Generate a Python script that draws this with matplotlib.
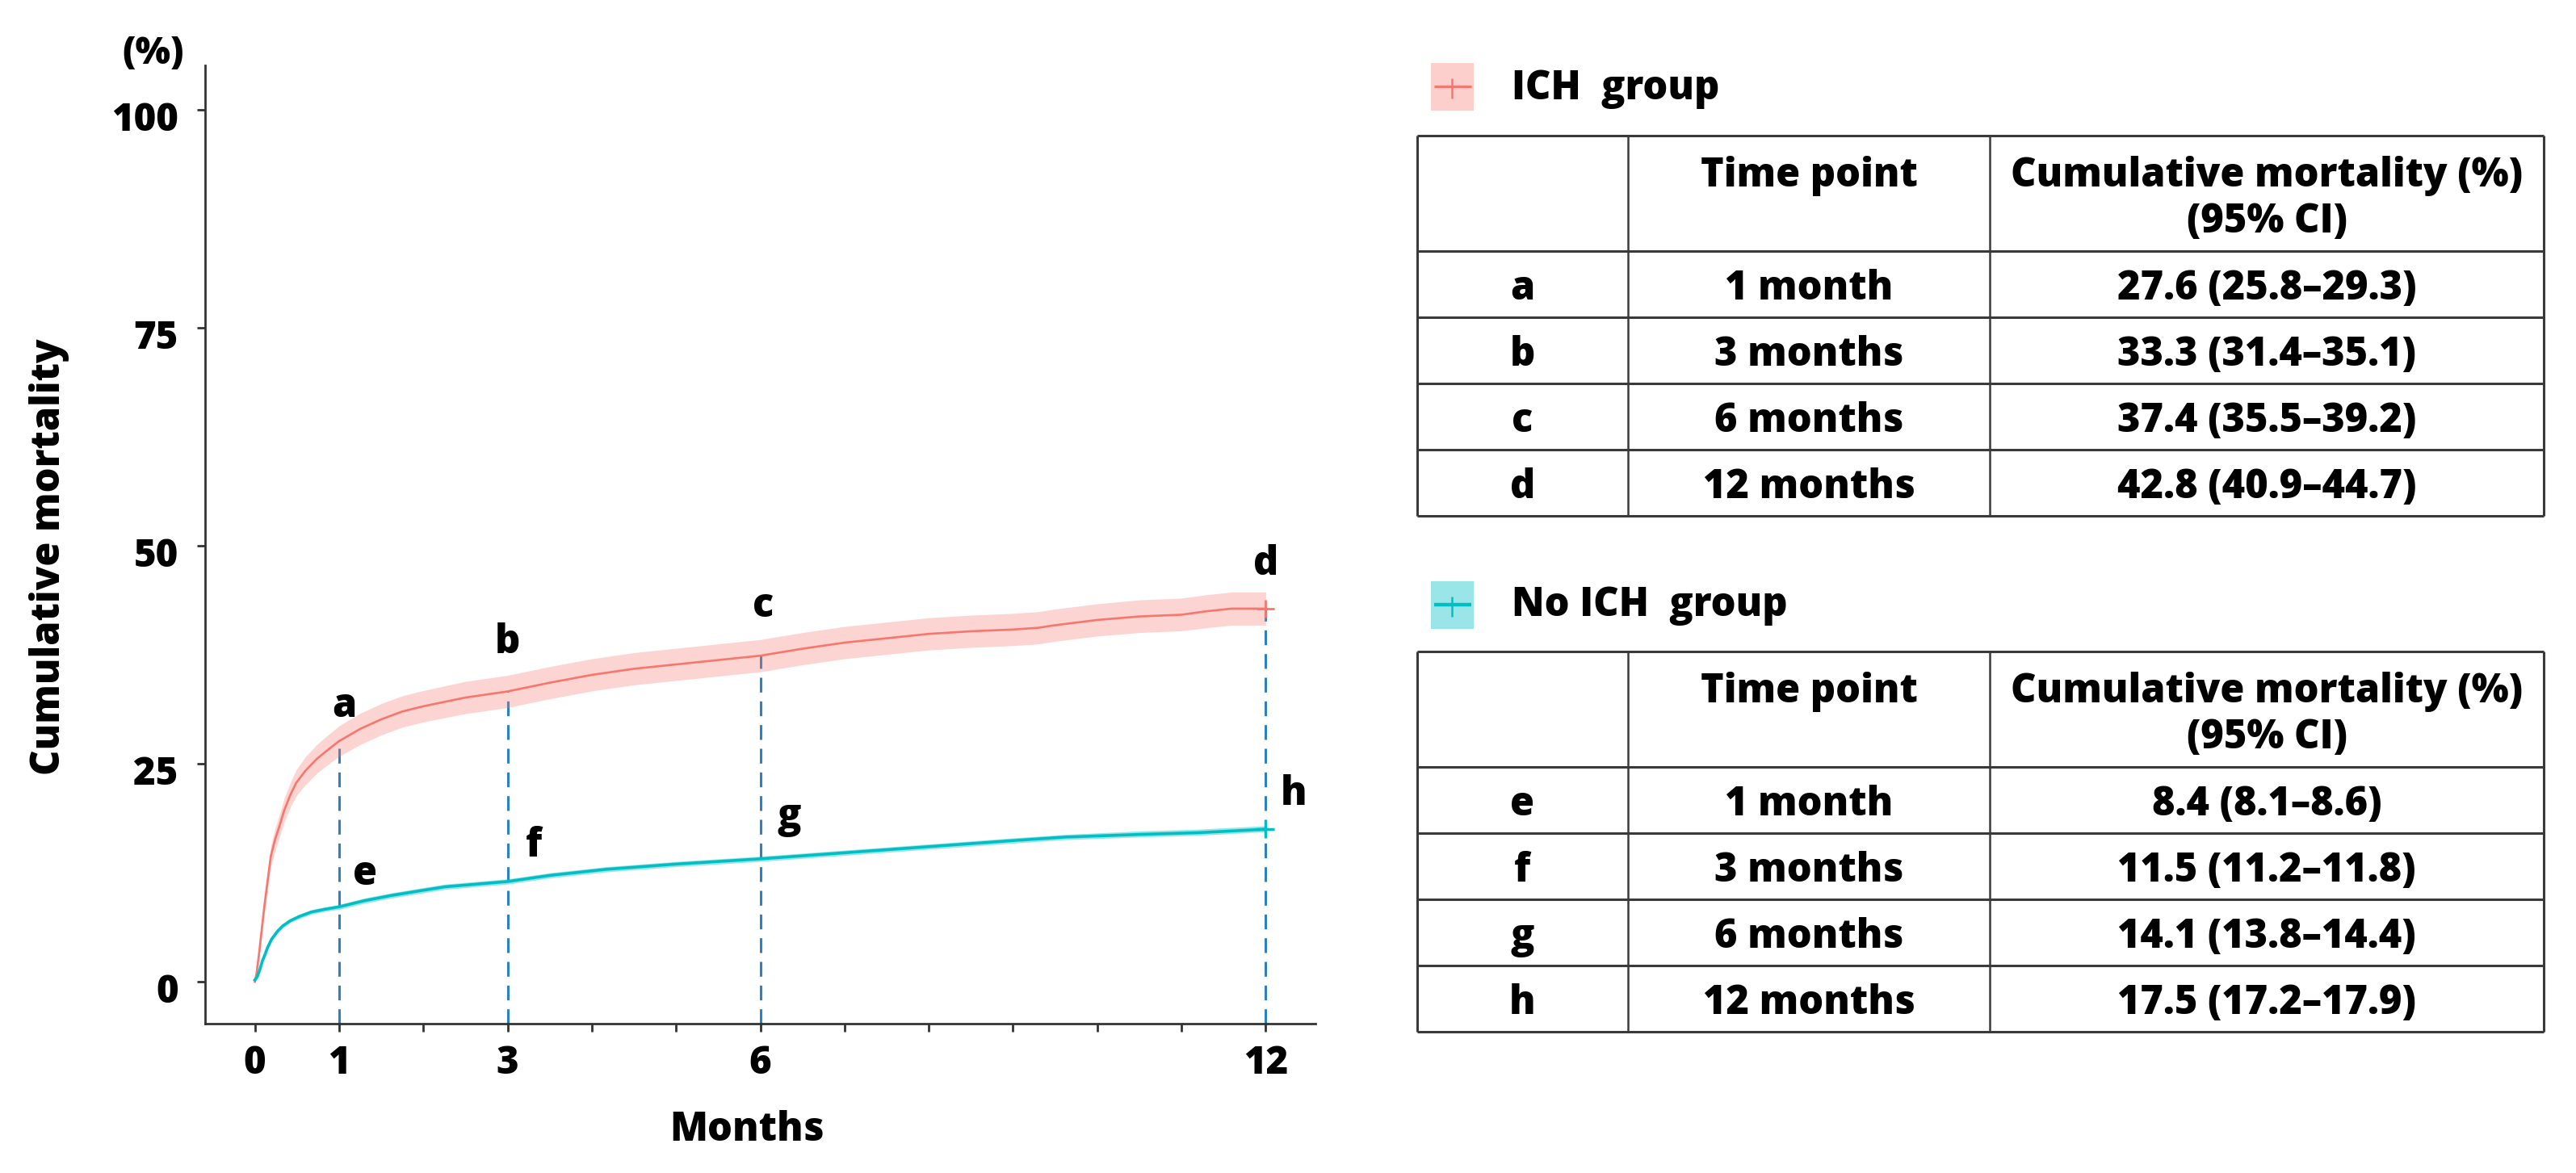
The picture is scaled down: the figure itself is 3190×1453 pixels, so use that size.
import matplotlib
matplotlib.use('Agg')
import matplotlib.pyplot as plt
from matplotlib.transforms import ScaledTranslation
from matplotlib.patches import Rectangle

plt.rcParams['font.family'] = ['Open Sans', 'DejaVu Sans']
WEIGHT = 'heavy'
plt.rcParams['font.weight'] = WEIGHT

# ---------------- data ----------------
# ICH group cumulative mortality curve
t_ich = [0, 0.02, 0.05, 0.08, 0.11, 0.14, 0.19, 0.24, 0.29, 0.35, 0.42, 0.49, 0.6, 0.74, 0.88,
         1.0, 1.25, 1.5, 1.75, 2.0, 2.5, 3.0, 3.5, 4.0, 4.5, 5.0, 5.5, 6.0, 6.5, 7.0, 7.5,
         8.0, 8.5, 9.0, 9.3, 9.5, 10.0, 10.5, 11.0, 11.3, 11.6, 12.0]
ich = [0, 0.9, 3.2, 5.8, 8.4, 10.7, 14.4, 16.3, 17.8, 19.7, 21.4, 22.8, 24.2, 25.6, 26.7,
       27.6, 29.0, 30.1, 31.0, 31.6, 32.6, 33.3, 34.3, 35.2, 35.9, 36.4, 36.9, 37.4, 38.2, 38.9, 39.4,
       39.9, 40.2, 40.4, 40.6, 40.9, 41.5, 41.9, 42.1, 42.5, 42.8, 42.8]
ich_low = [0, 0.6, 2.6, 5.0, 7.5, 9.7, 13.2, 15.0, 16.5, 18.3, 20.0, 21.3, 22.6, 23.95, 25.0,
           25.85, 27.2, 28.3, 29.2, 29.8, 30.75, 31.45, 32.45, 33.35, 34.05, 34.55, 35.05, 35.55, 36.35, 37.05, 37.55,
           38.05, 38.35, 38.55, 38.75, 39.05, 39.65, 40.05, 40.25, 40.6, 40.9, 40.9]
ich_high = [0, 1.2, 3.8, 6.6, 9.3, 11.7, 15.6, 17.6, 19.1, 21.1, 22.8, 24.3, 25.8, 27.25, 28.4,
            29.35, 30.8, 31.9, 32.8, 33.4, 34.45, 35.15, 36.15, 37.05, 37.75, 38.25, 38.75, 39.25, 40.05, 40.75, 41.25,
            41.75, 42.05, 42.25, 42.45, 42.75, 43.35, 43.8, 44.0, 44.4, 44.7, 44.7]

# No ICH group cumulative mortality curve
t_no = [0, 0.03, 0.06, 0.09, 0.12, 0.15, 0.2, 0.27, 0.33, 0.42, 0.53, 0.67, 0.82, 1.0, 1.3,
        1.62, 2.0, 2.26, 2.75, 3.0, 3.5, 4.17, 5.0, 6.0, 7.0, 8.0, 9.0, 9.62, 10.5, 11.2, 12.0]
no_ich = [0.2, 0.6, 1.4, 2.4, 3.1, 3.9, 4.9, 5.8, 6.4, 7.0, 7.5, 8.0, 8.3, 8.6, 9.3,
          9.9, 10.5, 10.9, 11.3, 11.5, 12.2, 12.9, 13.5, 14.1, 14.8, 15.5, 16.2, 16.6, 16.9, 17.1, 17.5]
no_low = [0.1, 0.5, 1.2, 2.2, 2.9, 3.7, 4.7, 5.6, 6.2, 6.8, 7.25, 7.75, 8.05, 8.3, 9.0,
          9.6, 10.2, 10.6, 11.0, 11.2, 11.9, 12.6, 13.2, 13.8, 14.5, 15.2, 15.9, 16.3, 16.6, 16.8, 17.2]
no_high = [0.3, 0.7, 1.6, 2.6, 3.3, 4.1, 5.1, 6.0, 6.6, 7.2, 7.75, 8.25, 8.55, 8.85, 9.6,
           10.2, 10.8, 11.2, 11.6, 11.8, 12.5, 13.2, 13.8, 14.4, 15.1, 15.8, 16.5, 16.9, 17.3, 17.5, 17.9]

# Table values
time_points = [1, 3, 6, 12]
time_labels = ['1 month', '3 months', '6 months', '12 months']
ich_letters = ['a', 'b', 'c', 'd']
no_letters = ['e', 'f', 'g', 'h']
ich_est = [27.6, 33.3, 37.4, 42.8]
ich_lo = [25.8, 31.4, 35.5, 40.9]
ich_hi = [29.3, 35.1, 39.2, 44.7]
no_est = [8.4, 11.5, 14.1, 17.5]
no_lo = [8.1, 11.2, 13.8, 17.2]
no_hi = [8.6, 11.8, 14.4, 17.9]

x_ticks = list(range(13))
x_ticklabels_shown = [0, 1, 3, 6, 12]
y_ticks = [0, 25, 50, 75, 100]

# ---------------- style ----------------
RED = '#F8766D'
CYAN = '#00BFC4'
DASH = '#2F80C0'
W, H, DPI = 3190, 1453, 100
FS = 35

fig = plt.figure(figsize=(W / DPI, H / DPI), dpi=DPI)
ax = fig.add_axes([254 / W, 1 - 1268 / H, (1629 - 254) / W, (1268 - 81) / H])
ax.set_xlim(-0.59, 12.59)
ax.set_ylim(-4.8, 105.1)
for s in ['top', 'right']:
    ax.spines[s].set_visible(False)
for s in ['left', 'bottom']:
    ax.spines[s].set_linewidth(2)
    ax.spines[s].set_color('#333333')

ax.set_xticks(x_ticks)
ax.set_xticklabels([str(t) if t in x_ticklabels_shown else '' for t in x_ticks])
ax.set_yticks(y_ticks)
ax.set_yticklabels([str(v) for v in y_ticks])
ax.tick_params(axis='both', length=7, width=2, color='#333333', labelsize=34)
ax.tick_params(axis='x', pad=12)
ax.tick_params(axis='y', pad=17)
for lbl in ax.get_yticklabels():
    lbl.set_fontweight(WEIGHT)
    lbl.set_transform(lbl.get_transform() + ScaledTranslation(0, -8 / DPI, fig.dpi_scale_trans))
for lbl in ax.get_xticklabels():
    lbl.set_fontweight(WEIGHT)

# curves
ax.fill_between(t_ich, ich_low, ich_high, color=RED, alpha=0.3, lw=0, zorder=2)
ax.plot(t_ich, ich, color=RED, lw=1.9, zorder=3)
ax.fill_between(t_no, no_low, no_high, color=CYAN, alpha=0.4, lw=0, zorder=2)
ax.plot(t_no, no_ich, color=CYAN, lw=2.6, zorder=3)
ax.plot([t_ich[-1]], [ich[-1]], marker='+', ms=16, mew=2, color=RED, zorder=4)
ax.plot([t_no[-1]], [no_ich[-1]], marker='+', ms=16, mew=2.5, color=CYAN, zorder=4)

# dashed reference lines
ymin = ax.get_ylim()[0]
ax.vlines(time_points, ymin, ich_est, colors=DASH, linestyles=(0, (6, 3.6)), lw=2.2, zorder=1)

# point letters (offsets relative to the estimate)
ich_off = [(0.06, 4.0), (0.0, 5.6), (0.03, 5.7), (0.0, 5.1)]
no_off = [(0.31, 3.9), (0.31, 4.1), (0.34, 4.8), (0.33, 4.0)]
for t, v, l, (dx, dy) in zip(time_points, ich_est, ich_letters, ich_off):
    ax.text(t + dx, v + dy, l, ha='center', va='center', fontsize=FS, fontweight=WEIGHT)
for t, v, l, (dx, dy) in zip(time_points, no_est, no_letters, no_off):
    ax.text(t + dx, v + dy, l, ha='center', va='center', fontsize=FS, fontweight=WEIGHT)

# axis labels
fig.text(61 / W, 1 - 690 / H, 'Cumulative mortality', rotation=90, ha='center', va='center',
         fontsize=FS, fontweight=WEIGHT)
fig.text(925 / W, 1 - 1400 / H, 'Months', ha='center', va='center', fontsize=FS, fontweight=WEIGHT)
fig.text(190 / W, 1 - 67 / H, '(%)', ha='center', va='center', fontsize=33, fontweight=WEIGHT)

# ---------------- legends + tables (overlay in pixel coordinates) ----------------
ov = fig.add_axes([0, 0, 1, 1])
ov.set_xlim(0, W)
ov.set_ylim(H, 0)
ov.axis('off')
ov.patch.set_visible(False)

LINE = '#3a3a3a'
x_left, x_d1, x_d2, x_right = 1755, 2016, 2464, 3150
c1, c2, c3 = (x_left + x_d1) / 2, (x_d1 + x_d2) / 2, (x_d2 + x_right) / 2


def legend_entry(y_top, color, band_alpha, text, text_base, lw):
    ov.add_patch(Rectangle((1772, y_top), 53, 59, facecolor=color, alpha=band_alpha, lw=0))
    yc = y_top + 29
    ov.plot([1776, 1822], [yc, yc], color=color, lw=lw, solid_capstyle='butt')
    ov.plot([1798, 1798], [yc - 10, yc + 15], color=color, lw=1.8, solid_capstyle='butt')
    ov.text(1872, text_base, text, ha='left', va='baseline', fontsize=FS, fontweight=WEIGHT)


def table(top, letters, est, lo, hi):
    hb = top + 143
    rows = [hb + 82 * i for i in range(5)]
    ys = [top, hb] + rows[1:]
    for y in ys:
        ov.plot([x_left, x_right], [y, y], color=LINE, lw=2.2, solid_capstyle='butt')
    for x in [x_left, x_d1, x_d2, x_right]:
        ov.plot([x, x], [top, rows[-1]], color=LINE, lw=1.8 if x in (x_d1, x_d2) else 2.2,
                solid_capstyle='butt')
    ov.text(c2, top + 63, 'Time point', ha='center', va='baseline', fontsize=FS, fontweight=WEIGHT)
    ov.text(c3, top + 63, 'Cumulative mortality (%)', ha='center', va='baseline', fontsize=FS,
            fontweight=WEIGHT)
    ov.text(c3, top + 120, '(95% CI)', ha='center', va='baseline', fontsize=FS, fontweight=WEIGHT)
    for i in range(4):
        base = rows[i] + 60
        ov.text(c1, base, letters[i], ha='center', va='baseline', fontsize=FS, fontweight=WEIGHT)
        ov.text(c2, base, time_labels[i], ha='center', va='baseline', fontsize=FS, fontweight=WEIGHT)
        ov.text(c3, base, f'{est[i]:.1f} ({lo[i]:.1f}\u2013{hi[i]:.1f})', ha='center', va='baseline',
                fontsize=FS, fontweight=WEIGHT)


legend_entry(78, RED, 0.35, 'ICH  group', 123, 2.2)
table(168, ich_letters, ich_est, ich_lo, ich_hi)
legend_entry(720, CYAN, 0.4, 'No ICH  group', 763, 3.2)
table(807, no_letters, no_est, no_lo, no_hi)

fig.savefig('out.png', dpi=DPI)
